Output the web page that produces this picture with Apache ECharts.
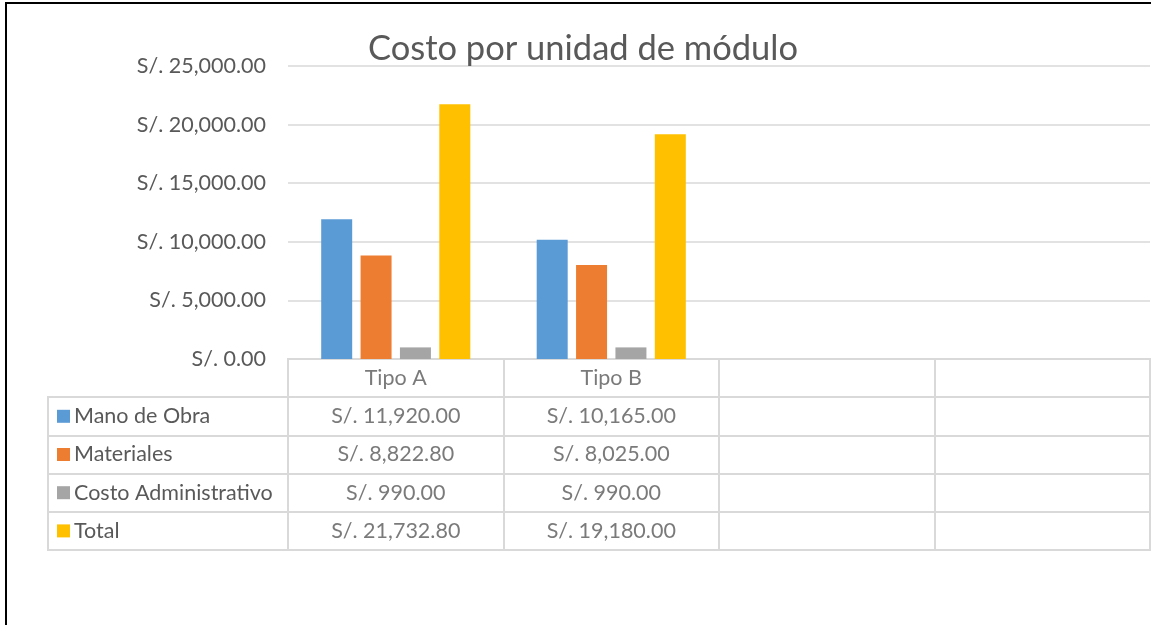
<!DOCTYPE html>
<html>
<head>
<meta charset="utf-8">
<title>Costo por unidad de módulo</title>
<script src="https://cdn.jsdelivr.net/npm/echarts@6/dist/echarts.min.js"></script>
<style>
  html, body { margin: 0; padding: 0; background: #fff; }
  #frame { position: absolute; left: 5px; top: 2px; width: 1146px; height: 623px;
           border-left: 2px solid #000; border-top: 2px solid #000; }
  #main { position: absolute; left: 0; top: 0; width: 1151px; height: 625px; }
</style>
</head>
<body>
<div id="frame"></div>
<div id="main"></div>
<script>
// datos del gráfico
var categorias = ['Tipo A', 'Tipo B', '', ''];
var nombresSeries = ['Mano de Obra', 'Materiales', 'Costo Administrativo', 'Total'];
var manoDeObra = [11920.00, 10165.00];
var materiales = [8822.80, 8025.00];
var costoAdmin = [990.00, 990.00];
var total = [21732.80, 19180.00];
var ticksY = [0, 5000, 10000, 15000, 20000, 25000];
var colores = ['#5b9bd5', '#ed7d31', '#a5a5a5', '#ffc000'];

var valores = [manoDeObra, materiales, costoAdmin, total];
var fuente = 'Lato, "Open Sans", sans-serif';
var tam = 21.5;
var gris = '#595959';
var linea = '#d9d9d9';

// formato S/. 11,920.00
function soles(v) {
    var p = v.toFixed(2).split('.');
    p[0] = p[0].replace(/\B(?=(\d{3})+(?!\d))/g, ',');
    return 'S/. ' + p[0] + '.' + p[1];
}

var myChart = echarts.init(document.getElementById('main'));

// filas de la tabla: cabecera + una fila por serie
var filas = [''].concat(nombresSeries);

// celdas de texto de la tabla
var celdas = [];
categorias.forEach(function (c, i) {
    if (c) celdas.push([i, 0, c]);
});
valores.forEach(function (serie, s) {
    serie.forEach(function (v, i) {
        celdas.push([i, s + 1, soles(v)]);
    });
});

// cuadritos de color en la leyenda
var ricos = { t: { fontFamily: fuente, fontSize: tam, color: gris, padding: [0, 0, 0, 4] } };
colores.forEach(function (c, i) {
    ricos['s' + i] = { backgroundColor: c, width: 13, height: 13 };
});

var series = valores.map(function (serie, s) {
    return {
        name: nombresSeries[s],
        type: 'bar',
        xAxisIndex: 0,
        yAxisIndex: 0,
        data: serie,
        barWidth: 31,
        barGap: '27%',
        itemStyle: { color: colores[s] }
    };
});
series.push({
    type: 'scatter',
    xAxisIndex: 1,
    yAxisIndex: 1,
    symbolSize: 1,
    itemStyle: { color: 'transparent' },
    silent: true,
    data: celdas,
    label: {
        show: true,
        position: 'inside',
        formatter: function (p) { return p.data[2]; },
        fontFamily: fuente,
        fontSize: tam,
        color: gris
    }
});

var option = {
    animation: false,
    title: {
        text: 'Costo por unidad de módulo',
        left: 578,
        textAlign: 'center',
        top: 26,
        textStyle: { fontFamily: fuente, fontSize: 34.5, fontWeight: 'normal', color: gris }
    },
    grid: [
        // gráfico de barras
        { left: 288, right: 1, top: 66, bottom: 266 },
        // tabla de datos (cabecera + valores)
        { left: 288, right: 1, top: 359, bottom: 75, show: true, borderColor: linea, borderWidth: 2 },
        // columna de leyenda
        { left: 48, right: 1, top: 397, bottom: 75, show: true, borderColor: linea, borderWidth: 2 }
    ],
    xAxis: [
        {
            type: 'category', gridIndex: 0, data: categorias,
            axisLine: { show: false }, axisTick: { show: false }, axisLabel: { show: false }
        },
        {
            type: 'category', gridIndex: 1, data: categorias,
            axisLine: { show: false }, axisTick: { show: false }, axisLabel: { show: false },
            splitLine: { show: true, lineStyle: { color: linea, width: 2 } }
        },
        {
            type: 'value', gridIndex: 2, show: false
        }
    ],
    yAxis: [
        {
            type: 'value', gridIndex: 0, min: ticksY[0], max: ticksY[ticksY.length - 1], interval: 5000,
            axisLine: { show: false }, axisTick: { show: false },
            axisLabel: { formatter: soles, fontFamily: fuente, fontSize: tam, color: gris, margin: 22 },
            splitLine: { lineStyle: { color: linea, width: 1.5 } }
        },
        {
            type: 'category', gridIndex: 1, data: filas, inverse: true,
            axisLine: { show: false }, axisTick: { show: false },
            axisLabel: {
                align: 'left', margin: 231,
                formatter: function (v, i) {
                    return i === 0 ? '' : '{s' + (i - 1) + '|}{t|' + v + '}';
                },
                rich: ricos
            },
            splitLine: { show: true, lineStyle: { color: linea, width: 2 } }
        },
        {
            type: 'category', gridIndex: 2, data: nombresSeries, inverse: true,
            axisLine: { show: false }, axisTick: { show: false }, axisLabel: { show: false },
            splitLine: { show: true, lineStyle: { color: linea, width: 2 } }
        }
    ],
    series: series
};

myChart.setOption(option);
</script>
</body>
</html>
